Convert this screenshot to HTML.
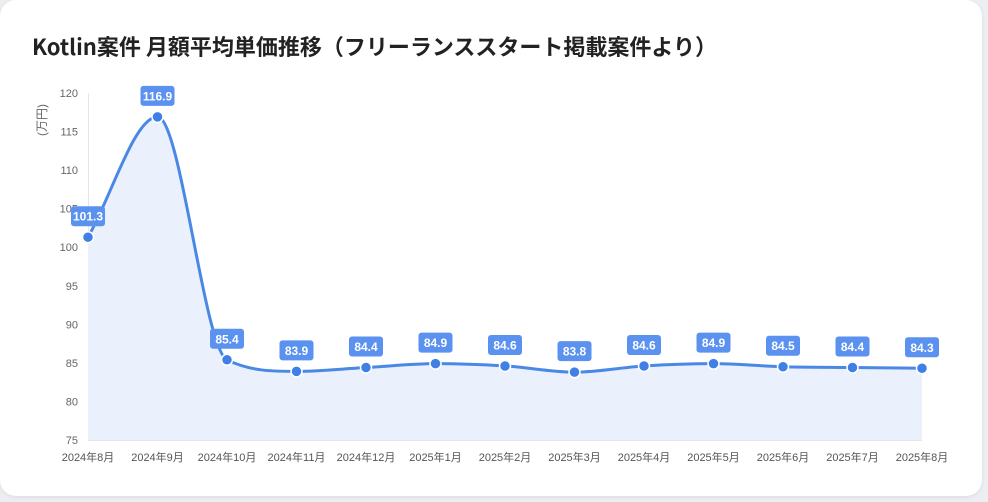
<!DOCTYPE html><html><head><meta charset="utf-8"><style>
body{margin:0;width:988px;height:502px;background:#eceef1;overflow:hidden;font-family:"Liberation Sans","Noto Sans CJK JP",sans-serif}
.card{position:absolute;left:0;top:0;width:982px;height:496px;background:#fff;border-radius:16px;box-shadow:0 1px 4px rgba(0,0,0,.08)}
h1{position:absolute;left:32px;top:30px;margin:0;font-size:22px;font-weight:bold;color:#222;font-family:"Noto Sans CJK JP",sans-serif;letter-spacing:0}
svg{position:absolute;left:0;top:0}
</style></head><body><div class="card"></div>
<h1>Kotlin案件 月額平均単価推移（フリーランススタート掲載案件より）</h1>
<svg id="s" width="988" height="502" font-family="Liberation Sans, Noto Sans CJK JP, sans-serif"></svg>
<script>
var v=[101.3,116.9,85.4,83.9,84.4,84.9,84.6,83.8,84.6,84.9,84.5,84.4,84.3];
var L=["2024年8月","2024年9月","2024年10月","2024年11月","2024年12月","2025年1月","2025年2月","2025年3月","2025年4月","2025年5月","2025年6月","2025年7月","2025年8月"];
function Y(a){return 440-(a-75)*7.711}
var X=function(i){return 88+i*69.5};
var h='';
for(var t=75;t<=120;t+=5)h+='<text x="78" y="'+(Y(t)+4)+'" text-anchor="end" font-size="11" fill="#666">'+t+'</text>';
h+='<line x1="88.5" y1="93" x2="88.5" y2="440" stroke="#e3e6ea"/>';
h+='<line x1="88" y1="440.5" x2="922" y2="440.5" stroke="#e3e6ea"/>';
h+='<text transform="translate(46,120) rotate(-90)" text-anchor="middle" font-size="12" fill="#666">(万円)</text>';
var n=v.length,xs=[],ys=[];for(var i=0;i<n;i++){xs.push(X(i));ys.push(Y(v[i]));}
var d=[],m=[];for(i=0;i<n-1;i++)d.push((ys[i+1]-ys[i])/(xs[i+1]-xs[i]));
m[0]=d[0];m[n-1]=d[n-2];for(i=1;i<n-1;i++)m[i]=(d[i-1]*d[i]<=0)?0:(d[i-1]+d[i])/2;
for(i=0;i<n-1;i++){if(d[i]==0){m[i]=m[i+1]=0;continue}var a=m[i]/d[i],b=m[i+1]/d[i],s=a*a+b*b;if(s>9){var tt=3/Math.sqrt(s);m[i]=tt*a*d[i];m[i+1]=tt*b*d[i];}}
var p='M'+xs[0]+' '+ys[0];
for(i=0;i<n-1;i++){var dx=(xs[i+1]-xs[i])/3;p+=' C'+(xs[i]+dx)+' '+(ys[i]+m[i]*dx)+' '+(xs[i+1]-dx)+' '+(ys[i+1]-m[i+1]*dx)+' '+xs[i+1]+' '+ys[i+1];}
h+='<path d="'+p+' L922 440 L88 440Z" fill="#ebf1fc"/>';
h+='<path d="'+p+'" fill="none" stroke="#4a88e6" stroke-width="3"/>';
for(i=0;i<n;i++){h+='<circle cx="'+xs[i]+'" cy="'+ys[i]+'" r="5.5" fill="#3f7fe6" stroke="#fff" stroke-width="1.5"/>';
var by=ys[i]-31;h+='<rect x="'+(xs[i]-17)+'" y="'+by+'" width="34" height="20" rx="3" fill="#5b92f0"/>';
h+='<text x="'+xs[i]+'" y="'+(by+14.5)+'" text-anchor="middle" font-size="12" font-weight="bold" fill="#fff">'+v[i].toFixed(1)+'</text>';
h+='<text x="'+xs[i]+'" y="461" text-anchor="middle" font-size="11" fill="#555">'+L[i]+'</text>';}
document.getElementById('s').innerHTML=h;
</script></body></html>
